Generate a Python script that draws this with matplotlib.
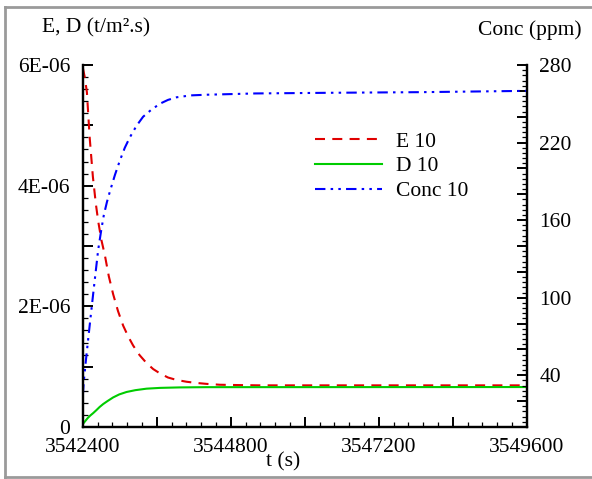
import matplotlib
matplotlib.use("Agg")
import matplotlib.pyplot as plt
from matplotlib.ticker import MultipleLocator, FuncFormatter
from matplotlib.lines import Line2D

plt.rcParams["font.family"] = ["Liberation Serif", "DejaVu Serif"]

# time (s)
t_conc = [3542400, 3542416, 3542450, 3542486, 3542525, 3542567, 3542610, 3542648,
          3542700, 3542740, 3542790, 3542837, 3542920, 3542999, 3543080, 3543161,
          3543270, 3543377, 3543500, 3543647, 3543780, 3543918, 3544150, 3544404,
          3545200, 3546400, 3547900, 3549600]
conc_10 = [25, 36, 52, 68, 85, 103, 121, 137,
           153, 164, 174, 182, 195, 206, 216, 224,
           233, 240, 245, 250, 253, 255, 256.5, 257,
           258, 258.5, 259, 260]

t_e = [3542400, 3542430, 3542465, 3542510, 3542562, 3542610, 3542650, 3542700,
       3542756, 3542820, 3542891, 3542970, 3543053, 3543135, 3543215, 3543320,
       3543432, 3543540, 3543647, 3543780, 3543918, 3544080, 3544242, 3544400,
       3544619, 3544900, 3545267, 3545900, 3549600]
e_10 = [5.95e-6, 5.8e-6, 5.55e-6, 4.8e-6, 4.15e-6, 3.7e-6, 3.4e-6, 3.1e-6,
        2.85e-6, 2.5e-6, 2.2e-6, 1.92e-6, 1.68e-6, 1.5e-6, 1.35e-6, 1.19e-6,
        1.06e-6, 0.96e-6, 0.89e-6, 0.82e-6, 0.78e-6, 0.75e-6, 0.73e-6, 0.715e-6,
        0.70e-6, 0.695e-6, 0.69e-6, 0.69e-6, 0.69e-6]

t_d = [3542400, 3542440, 3542480, 3542520, 3542567, 3542620, 3542670, 3542729,
       3542800, 3542891, 3542990, 3543108, 3543250, 3543432, 3543650, 3543971,
       3544400, 3549600]
d_10 = [0.05e-6, 0.10e-6, 0.15e-6, 0.19e-6, 0.23e-6, 0.28e-6, 0.33e-6, 0.38e-6,
        0.43e-6, 0.49e-6, 0.54e-6, 0.58e-6, 0.61e-6, 0.635e-6, 0.648e-6, 0.656e-6,
        0.66e-6, 0.662e-6]

fig = plt.figure(figsize=(5.92, 4.79), dpi=100)
ax = fig.add_axes([0.140, 0.1086, 0.750, 0.7557])
ax2 = ax.twinx()

lw = 1.5
l1, = ax.plot(t_e, e_10, color="#e00000", lw=lw, linestyle=(0, (4.8, 3.5)), label="E 10")
l2, = ax.plot(t_d, d_10, color="#00cc00", lw=lw, label="D 10")
l3, = ax2.plot(t_conc, conc_10, color="#0000ff", lw=lw,
               linestyle=(0, (5, 2.5, 1.2, 2.5, 1.2, 2.5)), label="Conc 10")

ax.set_xlim(3542400, 3549600)
ax.set_ylim(0, 6e-6)
ax2.set_ylim(0, 280)

ax.xaxis.set_major_locator(MultipleLocator(1200))
ax.xaxis.set_minor_locator(MultipleLocator(240))
ax.xaxis.set_major_formatter(FuncFormatter(
    lambda v, p: f"{int(round(v))}" if round(v - 3542400) % 2400 == 0 else ""))

ax.yaxis.set_major_locator(MultipleLocator(1e-6))
ax.yaxis.set_minor_locator(MultipleLocator(0.2e-6))


def fmt_left(v, p):
    n = int(round(v / 1e-6))
    if n == 0:
        return "0"
    if n % 2 == 0:
        return f"{n}E-06"
    return ""


ax.yaxis.set_major_formatter(FuncFormatter(fmt_left))

ax2.yaxis.set_major_locator(MultipleLocator(20))
ax2.yaxis.set_minor_locator(MultipleLocator(4))
ax2.yaxis.set_major_formatter(FuncFormatter(
    lambda v, p: f"{int(round(v))}" if int(round(v)) >= 40 and (int(round(v)) - 40) % 60 == 0 else ""))

for a in (ax, ax2):
    a.spines["top"].set_visible(False)
    for s in a.spines.values():
        s.set_linewidth(1.6)
    a.tick_params(which="major", direction="in", length=7, width=1.4, labelsize=15.5, pad=9)
    a.tick_params(which="minor", direction="in", length=3.5, width=0.9)
ax.tick_params(axis="x", pad=8)

fig.text(42 / 592, 1 - 28 / 479, "E, D (t/m\u00b2.s)", fontsize=15.5, va="center", ha="left")
fig.text(478 / 592, 1 - 30 / 479, "Conc (ppm)", fontsize=15.5, va="center", ha="left")
fig.text(283 / 592, 1 - 462 / 479, "t (s)", fontsize=15.5, va="center", ha="center")

ax.legend(handles=[l1, l2, l3], loc="upper left", bbox_to_anchor=(0.479, 0.87),
          frameon=False, fontsize=15.5, handlelength=3.1, handletextpad=0.65,
          labelspacing=0.22)

# gray outer border
border_kw = dict(color="#9a9a9a", lw=2, transform=fig.transFigure)
fig.add_artist(Line2D([5 / 592, 5 / 592], [0, 1 - 7 / 479], **border_kw))
fig.add_artist(Line2D([5 / 592, 1], [1 - 7 / 479, 1 - 7 / 479], **border_kw))
fig.add_artist(Line2D([5 / 592, 1], [1 - 477 / 479, 1 - 477 / 479], **border_kw))

fig.savefig("out.png", dpi=100)
